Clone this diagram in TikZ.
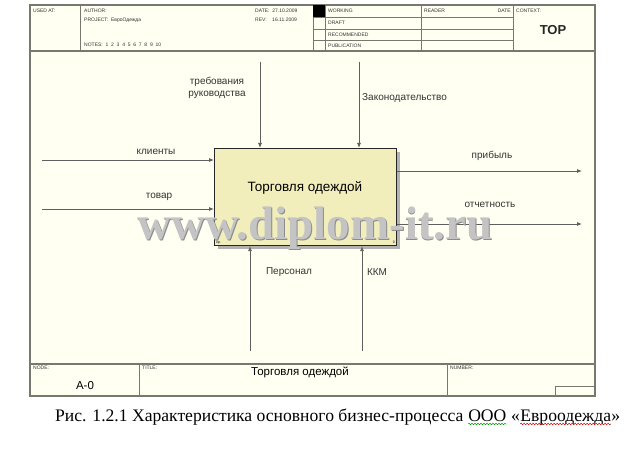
\documentclass[tikz,border=0pt]{standalone}
\usepackage{fontspec}
\setmainfont{Liberation Sans}
\newfontfamily\serifcap{Liberation Serif}
\usetikzlibrary{arrows.meta,decorations.pathmorphing}
\definecolor{paper}{RGB}{255,255,242}
\definecolor{boxfill}{RGB}{242,238,188}
\definecolor{frameline}{RGB}{120,120,112}
\definecolor{arrowline}{RGB}{95,95,95}
\definecolor{wmark}{RGB}{196,196,196}
\definecolor{wmarkedge}{RGB}{140,140,140}
\tikzset{
  frm/.style={draw=frameline, line width=1.1pt},
  thin/.style={draw=frameline, line width=0.7pt},
  tiny/.style={font=\fontsize{5}{6}\selectfont, inner sep=0pt, anchor=west, text=black!80},
  lbl/.style={font=\fontsize{10}{12}\selectfont, inner sep=0pt, text=black!80, align=center},
  flow/.style={draw=arrowline, line width=0.8pt, -{Latex[length=5pt,width=4pt]}},
  actbox/.style={draw=black!85, line width=1.1pt, fill=boxfill, minimum width=182pt, minimum height=97pt, inner sep=0pt, anchor=north west},
  capt/.style={font=\serifcap\fontsize{17.6}{20}\selectfont, inner sep=0pt, anchor=base west},
  spell/.style={line width=0.5pt, decorate, decoration={snake, amplitude=0.8pt, segment length=3pt}}
}
\begin{document}
\begin{tikzpicture}[x=1pt,y=-1pt]
\useasboundingbox (0,0) rectangle (633,460);
\fill[white] (0,0) rectangle (633,460);
% sheet
\fill[paper] (30,5) rectangle (595,396);
% header
\draw[frm] (30,5) rectangle (595,396);
\draw[frm] (30,51) -- (595,51);
\draw[frm] (30,364) -- (595,364);
\draw[thin] (80,5) -- (80,51);
\draw[thin] (313,5) -- (313,51);
\draw[thin] (325,5) -- (325,51);
\draw[thin] (421,5) -- (421,51);
\draw[thin] (513,5) -- (513,51);
\foreach \yy in {17,29,40} \draw[thin] (313,\yy) -- (513,\yy);
\fill[black] (313,5) rectangle (325,17);
\node[tiny] (usedat) at (33,11) {USED AT:};
\node[tiny] (author) at (84,11) {AUTHOR:};
\node[tiny] (project) at (84,20) {PROJECT:\ \ ЕвроОдежда};
\node[tiny] (notes) at (84,45) {NOTES:\ \ 1\ \ 2\ \ 3\ \ 4\ \ 5\ \ 6\ \ 7\ \ 8\ \ 9\ \ 10};
\node[tiny] (date) at (255,11) {DATE:\ \ 27.10.2009};
\node[tiny] (rev) at (255,20) {REV:\ \ \ \ 16.11.2009};
\node[tiny] (working) at (328,11) {WORKING};
\node[tiny] (draft) at (328,23) {DRAFT};
\node[tiny] (recom) at (328,34.5) {RECOMMENDED};
\node[tiny] (publ) at (328,45.5) {PUBLICATION};
\node[tiny] (reader) at (424,11) {READER};
\node[tiny, anchor=east] (rdate) at (511,11) {DATE};
\node[tiny] (context) at (516,11) {CONTEXT:};
\node[font=\bfseries\fontsize{13}{15}\selectfont, inner sep=0pt, text=black!85] (top) at (553,30) {TOP};
% footer
\draw[thin] (139,364) -- (139,396);
\draw[thin] (447,364) -- (447,396);
\draw[thin] (555,396) -- (555,386) -- (595,386);
\node[tiny] (nodelbl) at (33,368) {NODE:};
\node[font=\fontsize{11.5}{13}\selectfont, inner sep=0pt] (nodeval) at (85,386) {A-0};
\node[tiny] (titlelbl) at (142,368) {TITLE:};
\node[font=\fontsize{11.5}{13}\selectfont, inner sep=0pt] (titleval) at (300,372) {Торговля одеждой};
\node[tiny] (numberlbl) at (450,368) {NUMBER:};
% activity box
\fill[black!30] (218,152) rectangle (400,249);
\node[actbox] (act) at (214,148) {};
\node[font=\fontsize{13.5}{16}\selectfont, inner sep=0pt] (acttext) at (305,188) {Торговля одеждой};
\node[font=\fontsize{3.5}{4}\selectfont, inner sep=0pt, anchor=south west] (cost) at ([xshift=2pt,yshift=2pt]act.south west) {0р.};
\node[font=\fontsize{3.5}{4}\selectfont, inner sep=0pt, anchor=south east] (num) at ([xshift=-2pt,yshift=2pt]act.south east) {0};
% free ends
\coordinate (c1) at (260,62);
\coordinate (c2) at (359,62);
\coordinate (i1) at (42,160);
\coordinate (i2) at (42,209);
\coordinate (o1) at (582,171);
\coordinate (o2) at (582,224);
\coordinate (m1) at (250,351);
\coordinate (m2) at (362,351);
% arrows
\draw[flow] (c1) -- (c1 |- act.north);
\draw[flow] (c2) -- (c2 |- act.north);
\draw[flow] (i1) -- (i1 -| act.west);
\draw[flow] (i2) -- (i2 -| act.west);
\draw[flow] (o1 -| act.east) -- (o1);
\draw[flow] (o2 -| act.east) -- (o2);
\draw[flow] (m1) -- (m1 |- act.south);
\draw[flow] (m2) -- (m2 |- act.south);
% labels
\node[lbl] (lc1) at (217,88) {требования\\руководства};
\node[lbl, anchor=west] (lc2) at (362,98) {Законодательство};
\node[lbl] (li1) at (156,152) {клиенты};
\node[lbl] (li2) at (159,197) {товар};
\node[lbl] (lo1) at (492,156) {прибыль};
\node[lbl] (lo2) at (490,205) {отчетность};
\node[lbl] (lm1) at (289,272) {Персонал};
\node[lbl] (lm2) at (377,272) {ККМ};
% watermark
\node[font=\serifcap\bfseries\fontsize{47}{50}\selectfont, text=wmarkedge, inner sep=0pt, anchor=base] (wmshadow) at (315.8,240.8) {www.diplom-it.ru};
\node[font=\serifcap\bfseries\fontsize{47}{50}\selectfont, text=wmark, inner sep=0pt, anchor=base] (wm) at (315,240) {www.diplom-it.ru};
% caption
\node[capt] (cap1) at (55,421) {Рис. 1.2.1 Характеристика основного бизнес-процесса};
\node[capt] (cap2) at ([xshift=4.4pt]cap1.base east) {ООО};
\node[capt] (cap3) at ([xshift=4.4pt]cap2.base east) {«};
\node[capt] (cap4) at (cap3.base east) {Евроодежда};
\node[capt] (cap5) at (cap4.base east) {»};
\draw[spell, draw=green!60!black] ([yshift=-3pt]cap2.base west) -- ([yshift=-3pt]cap2.base east);
\draw[spell, draw=red!80!black] ([yshift=-3pt]cap4.base west) -- ([yshift=-3pt]cap4.base east);
\end{tikzpicture}
\end{document}
